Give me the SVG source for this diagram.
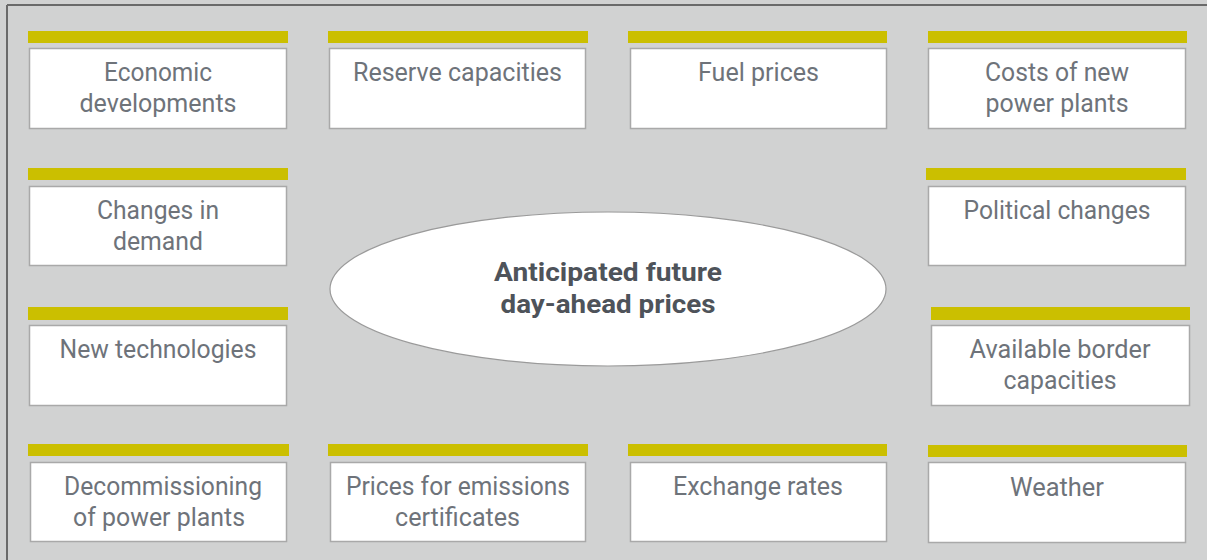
<svg xmlns="http://www.w3.org/2000/svg" width="1207" height="560" viewBox="0 0 1207 560">
  <style>
    .bar { fill: #cbbf00; }
    .box { fill: #ffffff; stroke: #a9a9a9; stroke-width: 1.5; }
    .lbl { font-family: Roboto, "Liberation Sans", sans-serif; font-size: 25px; fill: #6e737a; text-anchor: middle; }
    .core { font-family: Roboto, "Liberation Sans", sans-serif; font-size: 25px; font-weight: bold; fill: #4e535a; text-anchor: middle; }
  </style>

  <!-- panel background and frame -->
  <rect x="0" y="0" width="1207" height="560" fill="#d1d2d2"/>
  <line x1="7" y1="5" x2="1207" y2="5" stroke="#6a6a6a" stroke-width="2"/>
  <line x1="7" y1="5" x2="7" y2="560" stroke="#6a6a6a" stroke-width="2"/>

  <!-- central topic -->
  <g id="center">
    <ellipse cx="608" cy="289" rx="278" ry="77" fill="#ffffff" stroke="#9a9a9a" stroke-width="1.2"/>
    <text class="core" x="608" y="281" textLength="228" lengthAdjust="spacingAndGlyphs">Anticipated future</text>
    <text class="core" x="608" y="313" textLength="215" lengthAdjust="spacingAndGlyphs">day-ahead prices</text>
  </g>

  <!-- row 1 -->
  <g id="economic">
    <rect class="bar" x="28" y="31" width="260" height="12"/>
    <rect class="box" x="29.5" y="48.5" width="257" height="80"/>
    <text class="lbl" x="158" y="81" textLength="108" lengthAdjust="spacingAndGlyphs">Economic</text>
    <text class="lbl" x="158" y="112" textLength="157" lengthAdjust="spacingAndGlyphs">developments</text>
  </g>
  <g id="reserve">
    <rect class="bar" x="328" y="31" width="260" height="12"/>
    <rect class="box" x="329.5" y="48.5" width="256" height="80"/>
    <text class="lbl" x="457.5" y="81" textLength="209" lengthAdjust="spacingAndGlyphs">Reserve capacities</text>
  </g>
  <g id="fuel">
    <rect class="bar" x="628" y="31" width="259" height="12"/>
    <rect class="box" x="630.5" y="48.5" width="256" height="80"/>
    <text class="lbl" x="758.5" y="81" textLength="121" lengthAdjust="spacingAndGlyphs">Fuel prices</text>
  </g>
  <g id="costs">
    <rect class="bar" x="928" y="31" width="259" height="12"/>
    <rect class="box" x="928.5" y="48.5" width="257" height="80"/>
    <text class="lbl" x="1057" y="81" textLength="144" lengthAdjust="spacingAndGlyphs">Costs of new</text>
    <text class="lbl" x="1057" y="112" textLength="143" lengthAdjust="spacingAndGlyphs">power plants</text>
  </g>

  <!-- row 2 -->
  <g id="demand">
    <rect class="bar" x="28" y="168" width="260" height="12"/>
    <rect class="box" x="29.5" y="186.5" width="257" height="79"/>
    <text class="lbl" x="158" y="219" textLength="122" lengthAdjust="spacingAndGlyphs">Changes in</text>
    <text class="lbl" x="158" y="250" textLength="90" lengthAdjust="spacingAndGlyphs">demand</text>
  </g>
  <g id="political">
    <rect class="bar" x="926" y="168" width="260" height="12"/>
    <rect class="box" x="928.5" y="186.5" width="257" height="79"/>
    <text class="lbl" x="1057" y="219" textLength="187" lengthAdjust="spacingAndGlyphs">Political changes</text>
  </g>

  <!-- row 3 -->
  <g id="technologies">
    <rect class="bar" x="28" y="307" width="260" height="13"/>
    <rect class="box" x="29.5" y="325.5" width="257" height="80"/>
    <text class="lbl" x="158" y="358" textLength="197" lengthAdjust="spacingAndGlyphs">New technologies</text>
  </g>
  <g id="border">
    <rect class="bar" x="931" y="307" width="259" height="13"/>
    <rect class="box" x="931.5" y="325.5" width="258" height="80"/>
    <text class="lbl" x="1060" y="358" textLength="181" lengthAdjust="spacingAndGlyphs">Available border</text>
    <text class="lbl" x="1060" y="389" textLength="113" lengthAdjust="spacingAndGlyphs">capacities</text>
  </g>

  <!-- row 4 -->
  <g id="decommissioning">
    <rect class="bar" x="28" y="444" width="261" height="12"/>
    <rect class="box" x="30.5" y="462.5" width="256" height="79"/>
    <text class="lbl" x="163" y="495" textLength="198" lengthAdjust="spacingAndGlyphs">Decommissioning</text>
    <text class="lbl" x="159" y="526" textLength="172" lengthAdjust="spacingAndGlyphs">of power plants</text>
  </g>
  <g id="emissions">
    <rect class="bar" x="328" y="444" width="260" height="12"/>
    <rect class="box" x="330.5" y="462.5" width="255" height="79"/>
    <text class="lbl" x="458" y="495" textLength="224" lengthAdjust="spacingAndGlyphs">Prices for emissions</text>
    <text class="lbl" x="457.5" y="526" textLength="125" lengthAdjust="spacingAndGlyphs">certificates</text>
  </g>
  <g id="exchange">
    <rect class="bar" x="628" y="444" width="259" height="12"/>
    <rect class="box" x="630.5" y="462.5" width="256" height="79"/>
    <text class="lbl" x="758" y="495" textLength="170" lengthAdjust="spacingAndGlyphs">Exchange rates</text>
  </g>
  <g id="weather">
    <rect class="bar" x="928" y="445" width="259" height="12"/>
    <rect class="box" x="928.5" y="462.5" width="257" height="80"/>
    <text class="lbl" x="1057" y="496" textLength="94" lengthAdjust="spacingAndGlyphs">Weather</text>
  </g>

  <!-- no connectors are drawn between the factors and the centre -->
  <g id="connectors"/>
</svg>
